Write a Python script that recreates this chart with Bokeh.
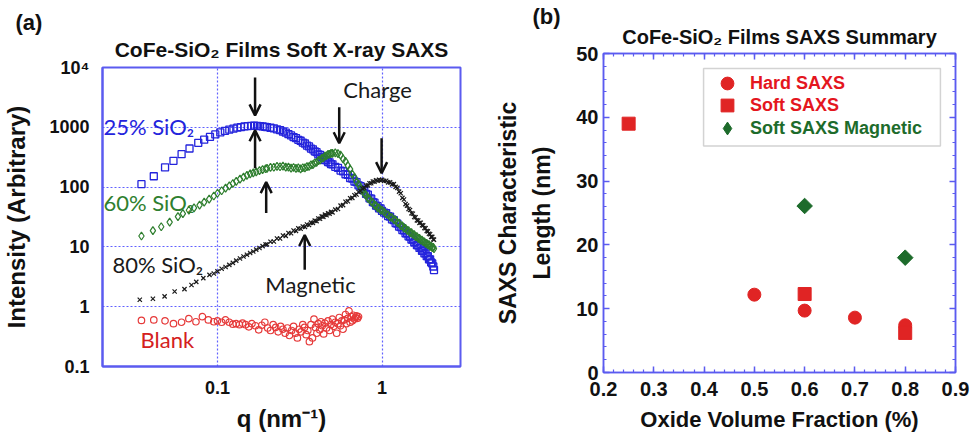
from bokeh.plotting import figure
from bokeh.layouts import row
from bokeh.models import (Label, Arrow, OpenHead, FixedTicker, SingleIntervalTicker, Title,
                          LinearAxis, BoxAnnotation, Legend, LegendItem, CustomJSTickFormatter)
from bokeh.embed import file_html
from bokeh.resources import INLINE

# ---------------- panel (a): soft X-ray SAXS curves ----------------
q_mid = [0.20, 0.21, 0.22, 0.23, 0.24, 0.25, 0.26, 0.27, 0.28, 0.29, 0.30, 0.31, 0.32, 0.33, 0.34,
         0.35, 0.36, 0.37, 0.38, 0.39, 0.40, 0.41, 0.42, 0.43, 0.44, 0.45, 0.46, 0.47, 0.48, 0.49, 0.50]
q_hi = [0.52, 0.54, 0.56, 0.58, 0.60, 0.62, 0.64, 0.66, 0.68, 0.70, 0.72, 0.74, 0.76, 0.78, 0.80,
        0.82, 0.84, 0.86, 0.88, 0.90, 0.92, 0.94, 0.96, 0.98, 1.00]
q_top = [1.03, 1.06, 1.09, 1.12, 1.15, 1.18, 1.21, 1.24, 1.27, 1.30, 1.33, 1.36, 1.39, 1.42, 1.45,
         1.48, 1.51, 1.54, 1.57, 1.60, 1.63, 1.66, 1.69, 1.72, 1.75, 1.78, 1.81, 1.84, 1.87, 1.90,
         1.93, 1.96, 1.99, 2.02, 2.05, 2.07]

# 25% SiO2
q25_low = [0.0345, 0.041, 0.048, 0.054, 0.0605, 0.0676, 0.0764, 0.083, 0.090, 0.097, 0.104, 0.111,
           0.118, 0.125, 0.132, 0.139, 0.146, 0.153, 0.160, 0.167, 0.174, 0.181, 0.188, 0.195]
i25_low = [112, 152, 213, 275, 355, 442, 550, 620, 690, 760, 820, 870,
           915, 950, 985, 1010, 1035, 1050, 1060, 1065, 1060, 1050, 1040, 1020]
i25_mid = [1005, 982, 962, 926, 898, 850, 815, 766, 732, 686, 660, 618, 596, 555, 536,
           494, 478, 440, 428, 396, 384, 352, 346, 316, 310, 284, 282, 262, 260, 242, 240]
i25_hi = [218, 210, 189, 184, 164, 160, 142, 139, 124, 121, 107, 104, 91, 88, 77,
          75, 65, 64, 56, 55, 49, 48, 44, 44, 40]
i25_top = [37.5, 36.5, 32.6, 32.0, 28.8, 28.0, 25.0, 24.5, 21.9, 21.4, 19.1, 18.9, 16.9, 16.8, 15.0,
           14.8, 13.3, 13.3, 12.0, 11.9, 10.7, 10.6, 9.6, 9.6, 8.6, 8.6, 7.8, 7.8, 7.0, 7.0,
           6.2, 6.2, 5.5, 5.3, 4.7, 4.1]

# 60% SiO2
q60_low = [0.0345, 0.0405, 0.0455, 0.0512, 0.0575, 0.0616, 0.067, 0.072, 0.0778, 0.083, 0.089,
           0.095, 0.100, 0.106, 0.112, 0.118, 0.124, 0.130, 0.137, 0.144, 0.151, 0.158, 0.165,
           0.172, 0.180, 0.188, 0.196]
i60_low = [15.2, 18.7, 21.7, 26, 32, 36, 41, 45, 50, 56, 63,
           71, 79, 87, 96, 105, 115, 125, 136, 147, 157, 166, 173,
           180, 188, 196, 203]
i60_mid = [206, 214, 215, 222, 219, 224, 216, 216, 208, 213, 205, 209, 202, 211, 209,
           220, 221, 235, 238, 254, 258, 278, 283, 304, 309, 330, 334, 353, 354, 367, 366]
i60_hi = [374, 362, 342, 296, 270, 228, 200, 165, 146, 122, 112, 96, 89, 78, 74,
          65, 63, 57, 55, 50, 49, 45, 45, 41, 41]
i60_top = [38.5, 35.5, 34.5, 31.5, 31.0, 28.5, 28.0, 25.5, 25.0, 22.6, 22.4, 20.6, 20.4, 18.8, 18.8,
           17.3, 17.3, 16.1, 16.1, 14.9, 14.9, 13.8, 13.9, 12.9, 13.0, 12.2, 12.2, 11.4, 11.5, 10.8,
           10.9, 10.2, 10.3, 9.7, 9.8, 9.3]

# 80% SiO2
q80_low = [0.0337, 0.0405, 0.0477, 0.0549, 0.063, 0.0695, 0.0743, 0.082, 0.0894, 0.095, 0.100,
           0.106, 0.112, 0.118, 0.124, 0.130, 0.137, 0.144, 0.151, 0.158, 0.165, 0.172, 0.180,
           0.188, 0.196]
i80_low = [1.31, 1.36, 1.49, 1.8, 1.97, 2.3, 2.6, 3.0, 3.4, 3.6, 3.9,
           4.3, 4.6, 5.0, 5.4, 5.9, 6.4, 6.9, 7.4, 7.9, 8.4, 9.0, 9.6,
           10.3, 11.0]
i80_mid = [11.0, 12.2, 12.3, 13.8, 13.8, 15.5, 15.3, 17.1, 16.9, 18.8, 18.5, 20.4, 20.1, 22.0, 21.6,
           23.7, 23.2, 25.5, 25.2, 27.5, 27.0, 29.9, 29.5, 32.4, 31.8, 34.6, 33.8, 36.6, 35.8, 38.6, 37.8]
i80_hi = [42, 43, 49, 50, 57, 58, 65, 66, 73, 75, 83, 86, 95, 97, 106,
          107, 116, 116, 124, 123, 130, 128, 133, 130, 133]
i80_top = [127, 128, 120, 120, 111, 112, 101, 97, 84, 79, 66, 62, 52, 49, 43,
           41.5, 36.5, 35.8, 31.7, 31.3, 27.8, 27.6, 25.2, 25.3, 23.0, 22.9, 20.7, 20.5, 18.5, 18.2,
           16.6, 16.3, 14.7, 14.7, 13.4, 13.2]

# Blank
q_blank = [0.0345, 0.041, 0.048, 0.054, 0.0605, 0.067, 0.074, 0.081, 0.088, 0.095,
           0.100, 0.106, 0.112, 0.118, 0.124, 0.130, 0.136, 0.142, 0.148, 0.155,
           0.162, 0.170, 0.178, 0.186, 0.194, 0.202, 0.210, 0.218, 0.226, 0.234,
           0.242, 0.250, 0.258, 0.266, 0.274, 0.282, 0.290, 0.298, 0.306, 0.314,
           0.322, 0.330, 0.338, 0.346, 0.354, 0.362, 0.370, 0.378, 0.386, 0.394,
           0.402, 0.410, 0.418, 0.426, 0.434, 0.442, 0.450, 0.460, 0.470, 0.480,
           0.490, 0.500, 0.510, 0.520, 0.530, 0.540, 0.550, 0.560, 0.570, 0.580,
           0.590, 0.600, 0.610, 0.620, 0.630, 0.640, 0.650, 0.660, 0.670, 0.680,
           0.690, 0.700, 0.710, 0.720]
i_blank = [0.59, 0.60, 0.58, 0.52, 0.55, 0.63, 0.56, 0.68, 0.60, 0.56,
           0.58, 0.55, 0.60, 0.55, 0.51, 0.52, 0.50, 0.53, 0.50, 0.46,
           0.52, 0.48, 0.41, 0.49, 0.55, 0.44, 0.40, 0.50, 0.45, 0.38,
           0.47, 0.42, 0.36, 0.44, 0.33, 0.40, 0.47, 0.36, 0.30, 0.42,
           0.38, 0.50, 0.45, 0.34, 0.40, 0.26, 0.50, 0.30, 0.62, 0.45,
           0.36, 0.52, 0.41, 0.56, 0.48, 0.35, 0.53, 0.44, 0.58, 0.40,
           0.50, 0.62, 0.47, 0.55, 0.36, 0.52, 0.66, 0.48, 0.58, 0.42,
           0.60, 0.74, 0.52, 0.64, 0.85, 0.55, 0.68, 0.58, 0.72, 0.62,
           0.66, 0.70, 0.64, 0.68]

q25 = q25_low + q_mid + q_hi + q_top
i25 = i25_low + i25_mid + i25_hi + i25_top
q60 = q60_low + q_mid + q_hi + q_top
i60 = i60_low + i60_mid + i60_hi + i60_top
q80 = q80_low + q_mid + q_hi + q_top
i80 = i80_low + i80_mid + i80_hi + i80_top

y_tick_vals = [0.1, 1, 10, 100, 1000, 10000]
y_tick_text = ["0.1", "1", "10", "100", "1000", "10\u2074"]
x_tick_vals = [0.1, 1]

# ---------------- panel (b): summary ----------------
hard_x = [0.5, 0.6, 0.7, 0.8]
hard_y = [12.2, 9.7, 8.6, 7.4]
soft_x = [0.25, 0.6, 0.8]
soft_y = [39.0, 12.3, 6.2]
mag_x = [0.6, 0.8]
mag_y = [26.1, 18.0]

BLUE = "#2424dc"
GREEN = "#2f7f2f"
RED = "#e02424"
AXBLUE = "#5b5bf0"
INK = "#111111"
ARIAL = "Liberation Sans"
CAL = "Lato"

# ================= figure (a) =================
p1 = figure(width=490, height=434, x_axis_type="log", y_axis_type="log",
            x_range=(0.02, 3), y_range=(0.1, 1e4),
            output_backend="svg", toolbar_location=None,
            min_border_left=97, min_border_right=30, min_border_top=67, min_border_bottom=67)
p1.frame_align = False
p1.title = Title(text="(a)", align="left", offset=-87, standoff=-10,
                 text_font=ARIAL, text_font_size="22px", text_font_style="bold", text_color=INK)
p1.add_layout(Title(text="CoFe-SiO\u2082 Films Soft X-ray SAXS", align="center", standoff=13,
                    text_font=ARIAL, text_font_size="21px", text_font_style="bold",
                    text_color=INK), "above")

p1.outline_line_color = AXBLUE
p1.outline_line_width = 2
p1.outline_line_alpha = 1

ax_b1 = p1.below[0]
ax_l1 = p1.left[0]
for ax in (ax_b1, ax_l1):
    ax.axis_line_color = AXBLUE
    ax.axis_line_width = 2
    ax.major_tick_line_color = None
    ax.minor_tick_line_color = None
    ax.major_label_text_font = ARIAL
    ax.major_label_text_font_style = "bold"
    ax.major_label_text_font_size = "18px"
    ax.major_label_text_color = INK
    ax.axis_label_text_font = ARIAL
    ax.axis_label_text_font_style = "bold"
    ax.axis_label_text_font_size = "24px"
    ax.axis_label_text_color = INK

ax_b1.ticker = FixedTicker(ticks=x_tick_vals)
ax_b1.major_label_overrides = {0.1: "0.1", 1: "1"}
ax_b1.major_label_standoff = 8
ax_b1.axis_label = "q (nm\u207b\u00b9)"
ax_b1.axis_label_standoff = 8

ax_l1.ticker = FixedTicker(ticks=y_tick_vals)
ax_l1.major_label_overrides = dict(zip(y_tick_vals, y_tick_text))
ax_l1.major_label_standoff = 7
ax_l1.axis_label = "Intensity (Arbitrary)"
ax_l1.axis_label_standoff = 16

p1.xgrid.ticker = FixedTicker(ticks=x_tick_vals)
p1.ygrid.ticker = FixedTicker(ticks=[1, 10, 100, 1000])
for g in (p1.xgrid[0], p1.ygrid[0]):
    g.grid_line_color = "#5050ff"
    g.grid_line_dash = "2 2"
    g.grid_line_width = 1.2
    g.grid_line_alpha = 0.9

p1.scatter(q_blank, i_blank, marker="circle", size=6.5, fill_color=None,
           line_color="#e63a3a", line_width=1.2)
p1.scatter(q25, i25, marker="square", size=7, fill_color=None,
           line_color=BLUE, line_width=1.3)
p1.scatter(q60, i60, marker="diamond", size=8, fill_color=None,
           line_color=GREEN, line_width=1.2)
p1.scatter(q80, i80, marker="x", size=6, line_color="#1a1a1a", line_width=1.2)

# texts placed in screen pixels relative to the frame's bottom-left corner
labels_a = [
    ("25% SiO\u2082", 1, 240, BLUE, "left"),
    ("60% SiO\u2082", 1, 164, GREEN, "left"),
    ("80% SiO\u2082", 10, 102, "#1a1a1a", "left"),
    ("Blank", 38, 27, "#d42020", "left"),
    ("Charge", 275, 277, "#1a1a1a", "center"),
    ("Magnetic", 208, 82, "#1a1a1a", "center"),
]
for txt, x, y, c, al in labels_a:
    p1.add_layout(Label(x=x, y=y, x_units="screen", y_units="screen", text=txt,
                        text_color=c, text_font=CAL, text_font_size="22px",
                        text_align=al, text_baseline="middle"))

arrows_a = [
    (0.1692, 6813, 0.1692, 1585),
    (0.1692, 207, 0.1692, 891),
    (0.1977, 36.9, 0.1977, 121),
    (0.5494, 2154, 0.5494, 541),
    (0.9945, 656, 0.9945, 171),
    (0.339, 4.14, 0.339, 15.8),
]
for xs, ys, xe, ye in arrows_a:
    p1.add_layout(Arrow(end=OpenHead(size=11, line_width=2.5, line_color=INK),
                        x_start=xs, y_start=ys, x_end=xe, y_end=ye,
                        line_width=2.5, line_color=INK))

# ================= figure (b) =================
p2 = figure(width=480, height=434, x_range=(0.2, 0.9), y_range=(0, 50),
            output_backend="svg", toolbar_location=None,
            min_border_left=113, min_border_right=15, min_border_top=53, min_border_bottom=60)
p2.frame_align = False
p2.title = Title(text="(b)", align="left", offset=-71, standoff=-22,
                 text_font=ARIAL, text_font_size="22px", text_font_style="bold", text_color=INK)
p2.grid.visible = False
p2.outline_line_color = AXBLUE
p2.outline_line_width = 1.5

ax_b2 = p2.below[0]
ax_l2 = p2.left[0]
xt = SingleIntervalTicker(interval=0.1, num_minor_ticks=5)
yt = SingleIntervalTicker(interval=10, num_minor_ticks=5)
ax_b2.ticker = xt
ax_l2.ticker = yt
blank_fmt = CustomJSTickFormatter(code="return ''")
ax_t2 = LinearAxis(ticker=xt, formatter=blank_fmt, major_label_standoff=0)
ax_r2 = LinearAxis(ticker=yt, formatter=blank_fmt, major_label_standoff=0)
p2.add_layout(ax_t2, "above")
p2.add_layout(ax_r2, "right")
p2.add_layout(Title(text="CoFe-SiO\u2082 Films SAXS Summary", align="center", standoff=12,
                    text_font=ARIAL, text_font_size="20px", text_font_style="bold",
                    text_color=INK), "above")
for ax in (ax_b2, ax_l2, ax_t2, ax_r2):
    ax.axis_line_color = AXBLUE
    ax.axis_line_width = 1.5
    ax.major_tick_line_color = AXBLUE
    ax.minor_tick_line_color = AXBLUE
    ax.major_tick_line_width = 1.5
    ax.minor_tick_line_width = 1.2
    ax.major_tick_in = 6
    ax.major_tick_out = 0
    ax.minor_tick_in = 3
    ax.minor_tick_out = 0
for ax in (ax_b2, ax_l2):
    ax.major_label_text_font = ARIAL
    ax.major_label_text_font_style = "bold"
    ax.major_label_text_font_size = "20px"
    ax.major_label_text_color = INK
    ax.axis_label_text_font = ARIAL
    ax.axis_label_text_font_style = "bold"
    ax.axis_label_text_color = INK
ax_b2.major_label_standoff = 9
ax_b2.axis_label = "Oxide Volume Fraction (%)"
ax_b2.axis_label_text_font_size = "22px"
ax_b2.axis_label_standoff = 8
ax_l2.major_label_standoff = 5
ax_l2.axis_label = "SAXS Characteristic\nLength (nm)"
ax_l2.axis_label_text_font_size = "23px"
ax_l2.axis_label_text_line_height = 1.3
ax_l2.axis_label_standoff = 18

MAGGREEN = "#1d6b2b"
r_hard = p2.scatter(hard_x, hard_y, marker="circle", size=13, fill_color=RED, line_color=RED)
r_soft = p2.scatter(soft_x, soft_y, marker="square", size=13, fill_color=RED, line_color=RED)
# narrow diamond underneath (used as legend key), rotated square on top
r_mag_key = p2.scatter(mag_x, mag_y, marker="diamond", size=13,
                       fill_color=MAGGREEN, line_color=MAGGREEN)
r_mag = p2.scatter(mag_x, mag_y, marker="square", angle=0.7854, size=11,
                   fill_color=MAGGREEN, line_color=MAGGREEN)

p2.add_layout(BoxAnnotation(left=0.399, right=0.870, top=47.66, bottom=35.5,
                            fill_alpha=0, line_color="#6e6e6e", line_width=1.5))

for lab, rend, col, yb in [("Hard SAXS", r_hard, "#e4161e", 273),
                           ("Soft SAXS", r_soft, "#e4161e", 251),
                           ("Soft SAXS Magnetic", r_mag_key, MAGGREEN, 228)]:
    p2.add_layout(Legend(items=[LegendItem(label=lab, renderers=[rend])], location=(108, yb),
                         glyph_width=32, glyph_height=32, label_height=32, label_standoff=7,
                         padding=0, margin=0, spacing=0,
                         background_fill_alpha=0, border_line_alpha=0,
                         label_text_color=col, label_text_font=ARIAL,
                         label_text_font_style="bold", label_text_font_size="18px"))

layout = row(p1, p2)
open("out.html", "w").write(file_html(layout, INLINE))
